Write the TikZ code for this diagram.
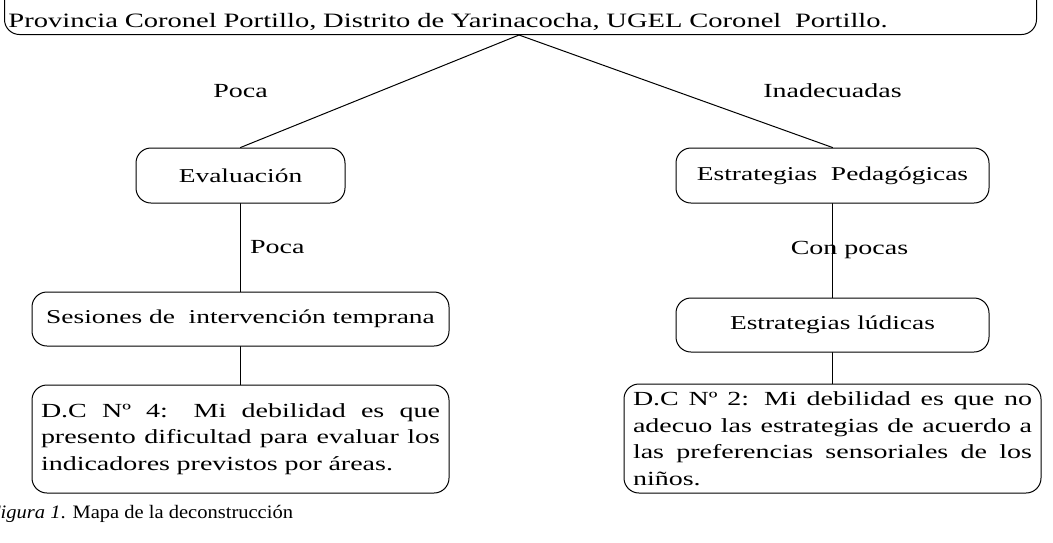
\documentclass[tikz,border=0pt]{standalone}
\usepackage{fontspec}
\setmainfont{Liberation Serif}[FakeStretch=1.4]
\newfontfamily\piefont{Liberation Serif}[FakeStretch=1.08]
\usetikzlibrary{positioning}
\newcommand{\linea}[1]{{\spaceskip=0pt\xspaceskip=0pt\makebox[399pt][s]{#1}}}
\tikzset{
  caja/.style={draw,line width=1pt,rounded corners=15pt,inner sep=4pt,
    font=\fontsize{19.6}{26}\selectfont},
  nota/.style={draw,line width=1pt,rounded corners=15pt,inner xsep=9pt,inner ysep=3pt,
    align=left,font=\fontsize{20}{26.5}\selectfont},
  etiqueta/.style={inner sep=0pt,font=\fontsize{20}{26}\selectfont}
}
\begin{document}
\begin{tikzpicture}[x=1pt,y=-1pt,line cap=round,line join=round]
  \useasboundingbox (0,0) rectangle (1053,542);
  % Problem box at the top, cut by the page edge.
  \node[nota,text width=1024,anchor=south west,inner xsep=4pt,inner ysep=4pt,
    font=\fontsize{20.4}{26}\selectfont] (problema) at (4,35)
    {\strut\\Provincia Coronel Portillo, Distrito de Yarinacocha, UGEL Coronel\ \ Portillo.};
  \coordinate (vertice) at (519,35);
  % First level of the map.
  \node[caja,minimum width=209,minimum height=55] (evaluacion) at (240.5,175.5) {Evaluación};
  \node[caja,minimum width=313,minimum height=55] (pedagogicas) at (832.5,175.5)
    {Estrategias\ \ Pedagógicas};
  \node[etiqueta] (poca1) at (240.5,91) {Poca};
  \node[etiqueta] (inadecuadas) at (832.5,91) {Inadecuadas};
  \draw[line width=1pt] (vertice) -- (evaluacion.north);
  \draw[line width=1pt] (vertice) -- (pedagogicas.north);
  % Second level.
  \node[caja,minimum width=417,minimum height=54] (sesiones) at (240.5,319)
    {Sesiones de\ \ intervención temprana};
  \node[caja,minimum width=313,minimum height=54] (ludicas) at (832.5,325) {Estrategias lúdicas};
  \draw[line width=1pt] (evaluacion) -- (sesiones)
    node[etiqueta,midway,right=9pt] (poca2) {Poca};
  \draw[line width=1pt] (pedagogicas) -- (ludicas)
    node[etiqueta,midway,xshift=17pt] (conpocas) {Con pocas};
  % Weakness statements.
  \node[nota,text width=399,minimum height=108] (dc4) at (240.5,439)
    {\linea{D.C Nº 4: Mi debilidad es que}\\
     \linea{presento dificultad para evaluar los}\\
     indicadores previstos por áreas.};
  \node[nota,text width=399,minimum height=109,inner ysep=1pt] (dc2) at (832.5,438.5)
    {\linea{D.C Nº 2: Mi debilidad es que no}\\
     \linea{adecuo las estrategias de acuerdo a}\\
     \linea{las preferencias sensoriales de los}\\
     niños.};
  \draw[line width=1pt] (sesiones) -- (dc4);
  \draw[line width=1pt] (ludicas) -- (dc2);
  \node[anchor=base west,inner sep=0pt,font=\piefont\fontsize{19}{21}\selectfont] (pie) at (-12,518)
    {\textit{Figura 1}. Mapa de la deconstrucción};
\end{tikzpicture}
\end{document}
